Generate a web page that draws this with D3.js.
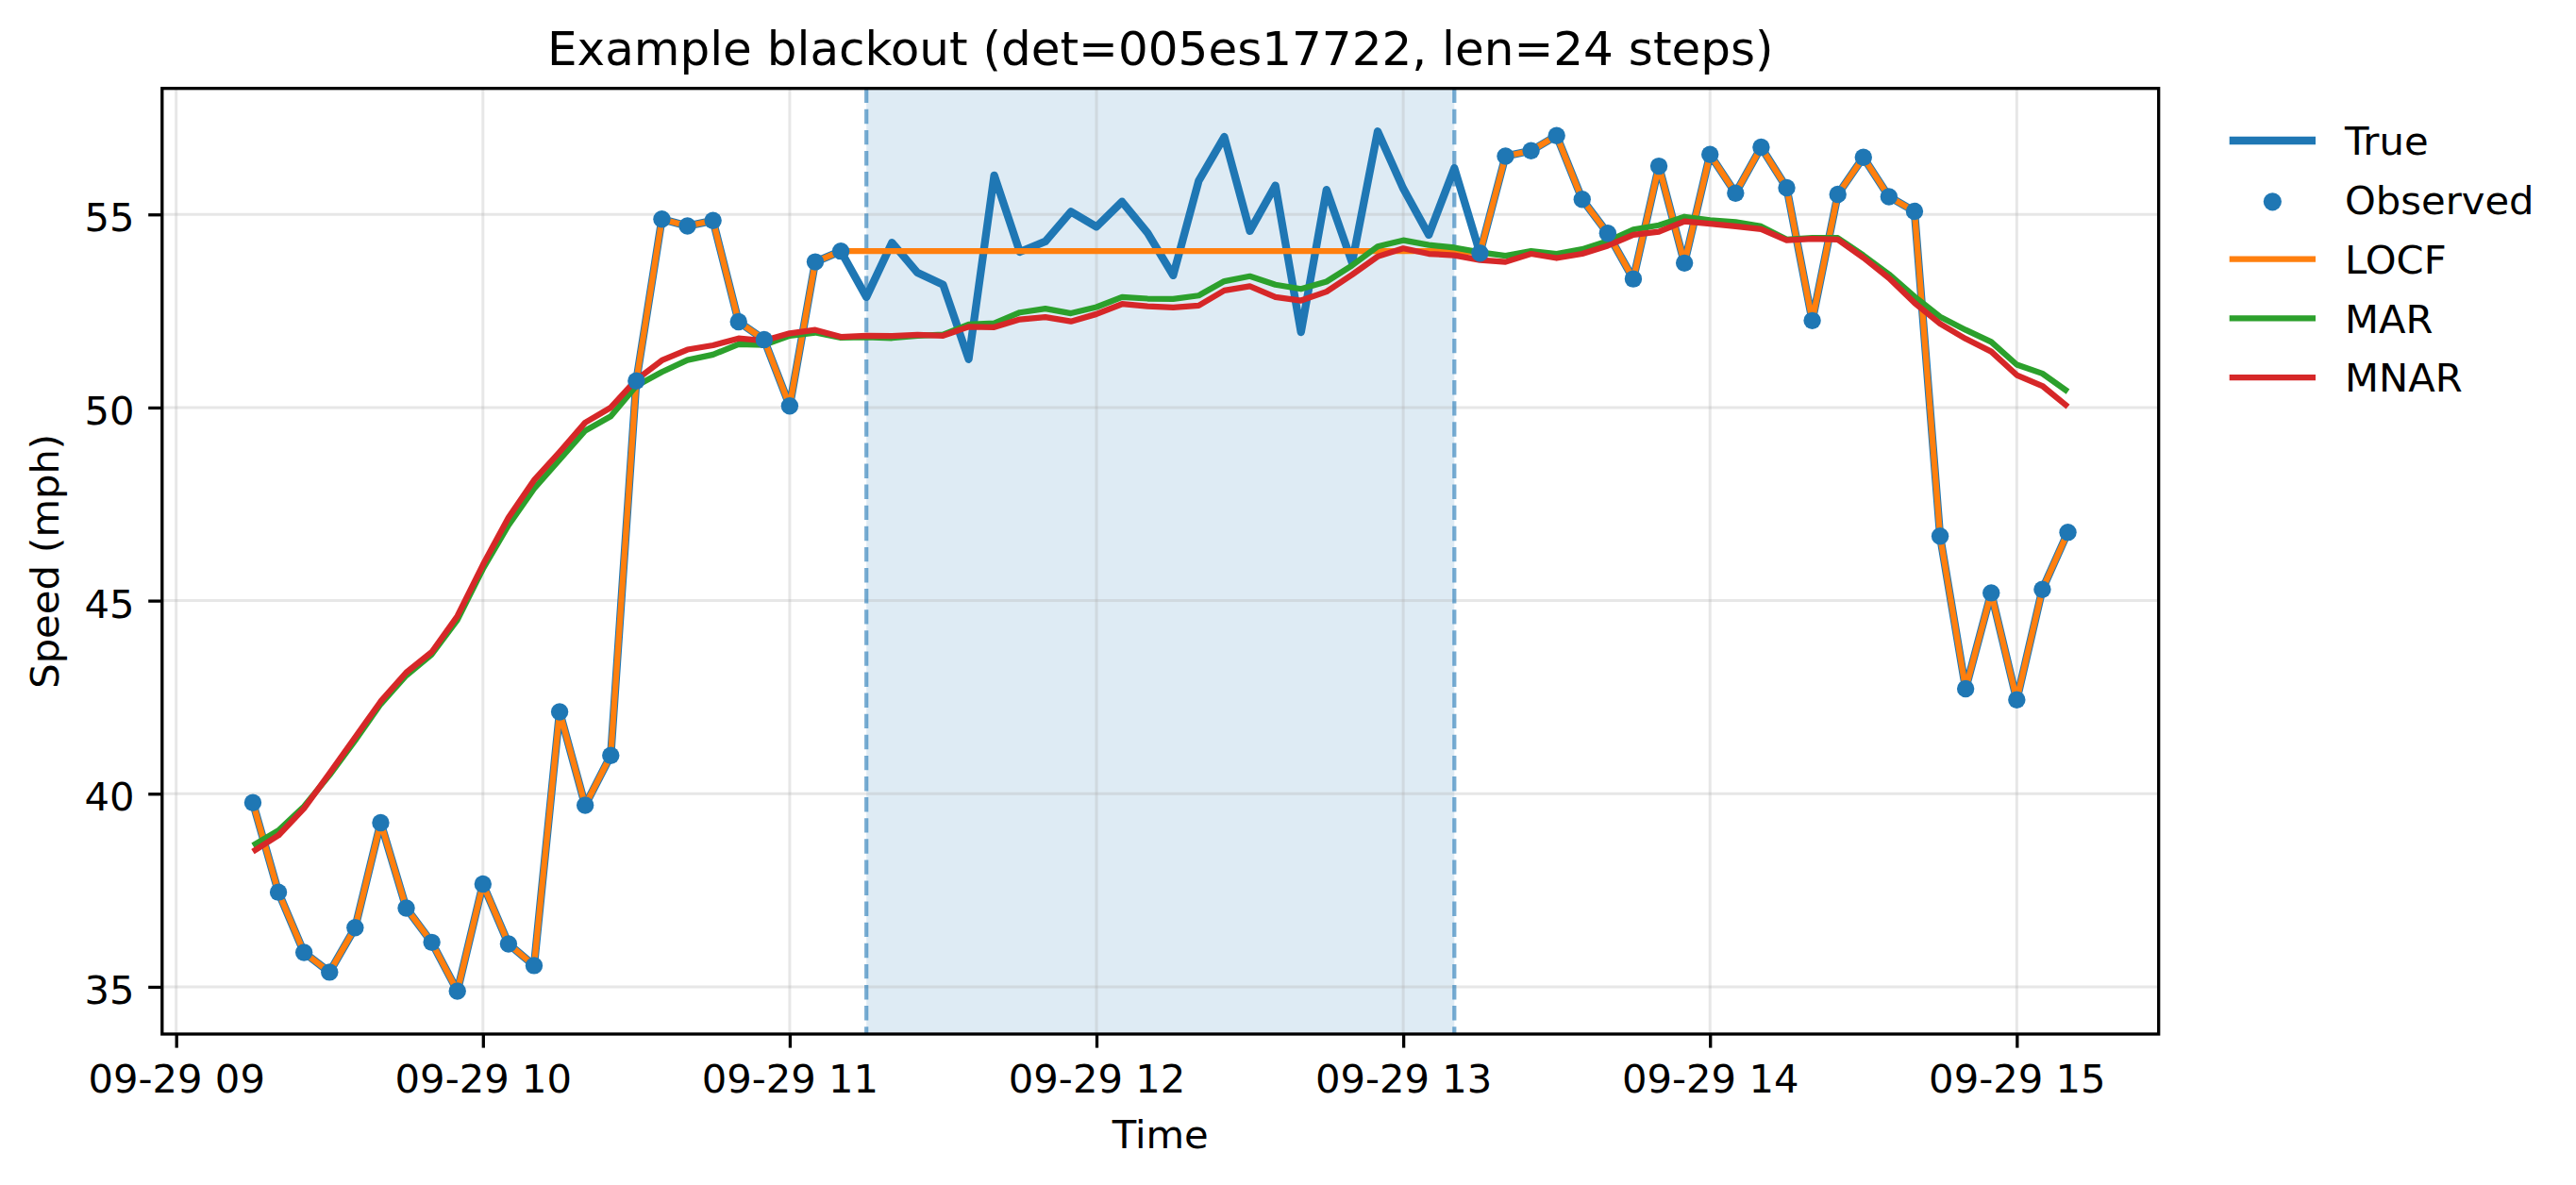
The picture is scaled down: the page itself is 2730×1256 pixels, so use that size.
<!DOCTYPE html>
<html><head><meta charset="utf-8">
<script src="https://cdn.jsdelivr.net/npm/d3@7"></script>
<style>html,body{margin:0;padding:0;background:#fff;}svg{display:block;font-family:"DejaVu Sans",sans-serif;}</style>
</head><body>
<svg id="chart" width="2730" height="1256"></svg>
<script>
// ---- data ----
const timeLabels = ["09:15","09:20","09:25","09:30","09:35","09:40","09:45","09:50","09:55","10:00","10:05","10:10",
"10:15","10:20","10:25","10:30","10:35","10:40","10:45","10:50","10:55","11:00","11:05","11:10",
"11:15","11:20","11:25","11:30","11:35","11:40","11:45","11:50","11:55","12:00","12:05","12:10",
"12:15","12:20","12:25","12:30","12:35","12:40","12:45","12:50","12:55","13:00","13:05","13:10",
"13:15","13:20","13:25","13:30","13:35","13:40","13:45","13:50","13:55","14:00","14:05","14:10",
"14:15","14:20","14:25","14:30","14:35","14:40","14:45","14:50","14:55","15:00","15:05","15:10"];
const trueSpeed = [39.77,37.45,35.89,35.38,36.53,39.25,37.04,36.15,34.89,37.66,36.11,35.55,
42.12,39.70,40.99,50.69,54.88,54.70,54.84,52.22,51.76,50.04,53.77,54.05,
52.86,54.27,53.49,53.18,51.25,56.01,54.03,54.30,55.07,54.68,55.33,54.52,
53.42,55.87,57.01,54.57,55.75,51.95,55.64,53.75,57.15,55.67,54.47,56.20,
54.00,56.51,56.65,57.04,55.39,54.51,53.33,56.25,53.74,56.55,55.55,56.74,
55.69,52.25,55.52,56.48,55.46,55.08,46.67,42.72,45.20,42.43,45.29,46.77];
const observed = [39.77,37.45,35.89,35.38,36.53,39.25,37.04,36.15,34.89,37.66,36.11,35.55,
42.12,39.70,40.99,50.69,54.88,54.70,54.84,52.22,51.76,50.04,53.77,54.05,
null,null,null,null,null,null,null,null,null,null,null,null,
null,null,null,null,null,null,null,null,null,null,null,null,
54.00,56.51,56.65,57.04,55.39,54.51,53.33,56.25,53.74,56.55,55.55,56.74,
55.69,52.25,55.52,56.48,55.46,55.08,46.67,42.72,45.20,42.43,45.29,46.77];
const locf = [39.77,37.45,35.89,35.38,36.53,39.25,37.04,36.15,34.89,37.66,36.11,35.55,
42.12,39.70,40.99,50.69,54.88,54.70,54.84,52.22,51.76,50.04,53.77,54.05,
54.05,54.05,54.05,54.05,54.05,54.05,54.05,54.05,54.05,54.05,54.05,54.05,
54.05,54.05,54.05,54.05,54.05,54.05,54.05,54.05,54.05,54.05,54.05,54.05,
54.00,56.51,56.65,57.04,55.39,54.51,53.33,56.25,53.74,56.55,55.55,56.74,
55.69,52.25,55.52,56.48,55.46,55.08,46.67,42.72,45.20,42.43,45.29,46.77];
const mar = [38.66,39.05,39.67,40.48,41.38,42.32,43.06,43.61,44.50,45.82,46.95,47.90,
48.65,49.40,49.77,50.56,50.92,51.23,51.37,51.64,51.62,51.86,51.94,51.81,
51.82,51.80,51.86,51.89,52.15,52.18,52.46,52.56,52.44,52.60,52.86,52.82,
52.81,52.90,53.27,53.40,53.18,53.07,53.26,53.68,54.17,54.33,54.21,54.14,
54.02,53.93,54.05,53.98,54.10,54.31,54.61,54.72,54.94,54.85,54.80,54.69,
54.35,54.39,54.39,53.94,53.45,52.87,52.35,52.01,51.70,51.11,50.88,50.41];
const mnar = [38.50,38.92,39.62,40.53,41.46,42.39,43.14,43.67,44.60,45.93,47.15,48.12,
48.85,49.61,50.00,50.72,51.22,51.50,51.61,51.79,51.73,51.92,52.01,51.83,
51.86,51.85,51.88,51.86,52.09,52.08,52.28,52.34,52.23,52.42,52.68,52.62,
52.59,52.64,53.03,53.14,52.86,52.77,53.00,53.44,53.91,54.12,53.98,53.94,
53.82,53.77,53.98,53.87,53.98,54.19,54.47,54.55,54.82,54.76,54.69,54.62,
54.33,54.37,54.35,53.88,53.35,52.71,52.17,51.78,51.45,50.84,50.56,50.02];
const blackoutStart = "11:15", blackoutEnd = "13:10";
const yTickValues = [35, 40, 45, 50, 55];
const seriesNames = ["True", "Observed", "LOCF", "MAR", "MNAR"];
const titleText = "Example blackout (det=005es17722, len=24 steps)";

// ---- layout ----
const W = 2730, H = 1256;
const L = 171.8, R = 2287.7, T = 93.7, B = 1096;
const C = {blue:"#1f77b4", orange:"#ff7f0e", green:"#2ca02c", red:"#d62728"};
const FS = 41.7;

const toDate = s => { const [h,m] = s.split(":").map(Number); return new Date(2019, 8, 29, h, m); };
const times = timeLabels.map(toDate);

const t0 = +times[0], t1 = +times[times.length-1], span = t1 - t0;
const x = d3.scaleTime().domain([new Date(t0 - 0.05*span), new Date(t1 + 0.05*span)]).range([L, R]);
const allVals = [].concat(trueSpeed, observed, locf, mar, mnar).filter(v => v != null);
const [vmin, vmax] = d3.extent(allVals);
const pad = 0.05*(vmax - vmin);
const y = d3.scaleLinear().domain([vmin - pad, vmax + pad]).range([B, T]);

const svg = d3.select("#chart");
svg.append("rect").attr("width", W).attr("height", H).attr("fill", "#fff");

// blackout span
const xb0 = x(toDate(blackoutStart)), xb1 = x(toDate(blackoutEnd));
svg.append("rect").attr("x", xb0).attr("y", T).attr("width", xb1 - xb0).attr("height", B - T)
  .attr("fill", C.blue).attr("fill-opacity", 0.15);

// grid
const xTicks = x.ticks(d3.timeHour.every(1));
const grid = svg.append("g").attr("stroke", "#b0b0b0").attr("stroke-opacity", 0.3).attr("stroke-width", 3);
xTicks.forEach(t => grid.append("line").attr("x1", x(t)).attr("x2", x(t)).attr("y1", T).attr("y2", B));
yTickValues.forEach(v => grid.append("line").attr("x1", L).attr("x2", R).attr("y1", y(v)).attr("y2", y(v)));

// dashed blackout bounds
[xb0, xb1].forEach(xv => svg.append("line").attr("x1", xv).attr("x2", xv).attr("y1", T).attr("y2", B)
  .attr("stroke", C.blue).attr("stroke-opacity", 0.6).attr("stroke-width", 4.2).attr("stroke-dasharray", "15.4 6.7"));

// lines
const line = arr => d3.line().defined((d,i) => arr[i] != null).x((d,i) => x(times[i])).y((d,i) => y(arr[i]))(arr);
svg.append("path").attr("d", line(trueSpeed)).attr("fill", "none").attr("stroke", C.blue).attr("stroke-width", 8.3).attr("stroke-linejoin", "round").attr("stroke-linecap", "butt");
svg.append("path").attr("d", line(locf)).attr("fill", "none").attr("stroke", C.orange).attr("stroke-width", 6.25).attr("stroke-linejoin", "round");
svg.append("path").attr("d", line(mar)).attr("fill", "none").attr("stroke", C.green).attr("stroke-width", 6.25).attr("stroke-linejoin", "round");
svg.append("path").attr("d", line(mnar)).attr("fill", "none").attr("stroke", C.red).attr("stroke-width", 6.25).attr("stroke-linejoin", "round");

// observed dots
svg.append("g").selectAll("circle").data(observed.map((v,i) => ({v, t: times[i]})).filter(d => d.v != null))
  .join("circle").attr("cx", d => x(d.t)).attr("cy", d => y(d.v)).attr("r", 9.2).attr("fill", C.blue);

// axes
const fmt = d3.timeFormat("%m-%d %H");
const xAxis = svg.append("g").attr("transform", `translate(0,${B})`)
  .call(d3.axisBottom(x).tickValues(xTicks).tickFormat(fmt).tickSize(14.6).tickPadding(14.6).tickSizeOuter(0));
const yAxis = svg.append("g").attr("transform", `translate(${L},0)`)
  .call(d3.axisLeft(y).tickValues(yTickValues).tickFormat(d3.format("d")).tickSize(14.6).tickPadding(14.6).tickSizeOuter(0));
[xAxis, yAxis].forEach(a => {
  a.select(".domain").remove();
  a.selectAll(".tick line").attr("stroke", "#000").attr("stroke-width", 3.3);
  a.selectAll(".tick text").attr("fill", "#000").attr("font-size", FS).attr("font-family", "DejaVu Sans");
});
xAxis.selectAll(".tick text").attr("dy", "0.79em");
yAxis.selectAll(".tick text").attr("dy", "0.42em");

// spines
svg.append("rect").attr("x", L).attr("y", T).attr("width", R - L).attr("height", B - T)
  .attr("fill", "none").attr("stroke", "#000").attr("stroke-width", 3.3);

// labels
svg.append("text").attr("x", (L+R)/2).attr("y", 68.7).attr("text-anchor", "middle").attr("font-size", 50).text(titleText);
svg.append("text").attr("x", (L+R)/2).attr("y", 1217).attr("text-anchor", "middle").attr("font-size", FS).text("Time");
svg.append("text").attr("transform", `translate(62,${(T+B)/2}) rotate(-90)`).attr("text-anchor", "middle").attr("font-size", FS).text("Speed (mph)");

// legend
const legend = svg.append("g");
const lx0 = 2362.7, lx1 = 2454, ly0 = 149, ldy = 62.8, ltx = 2485;
const legendStyle = [
  {type:"line", color:C.blue, w:8.3},
  {type:"dot", color:C.blue},
  {type:"line", color:C.orange, w:6.25},
  {type:"line", color:C.green, w:6.25},
  {type:"line", color:C.red, w:6.25}
];
seriesNames.forEach((name, i) => {
  const yy = ly0 + i*ldy, s = legendStyle[i];
  if (s.type === "line") legend.append("line").attr("x1", lx0).attr("x2", lx1).attr("y1", yy).attr("y2", yy).attr("stroke", s.color).attr("stroke-width", s.w);
  else legend.append("circle").attr("cx", (lx0+lx1)/2).attr("cy", yy + 2).attr("r", 9.6).attr("fill", s.color);
  legend.append("text").attr("x", ltx).attr("y", yy + 15.2).attr("font-size", FS).text(name);
});
</script>
</body></html>
